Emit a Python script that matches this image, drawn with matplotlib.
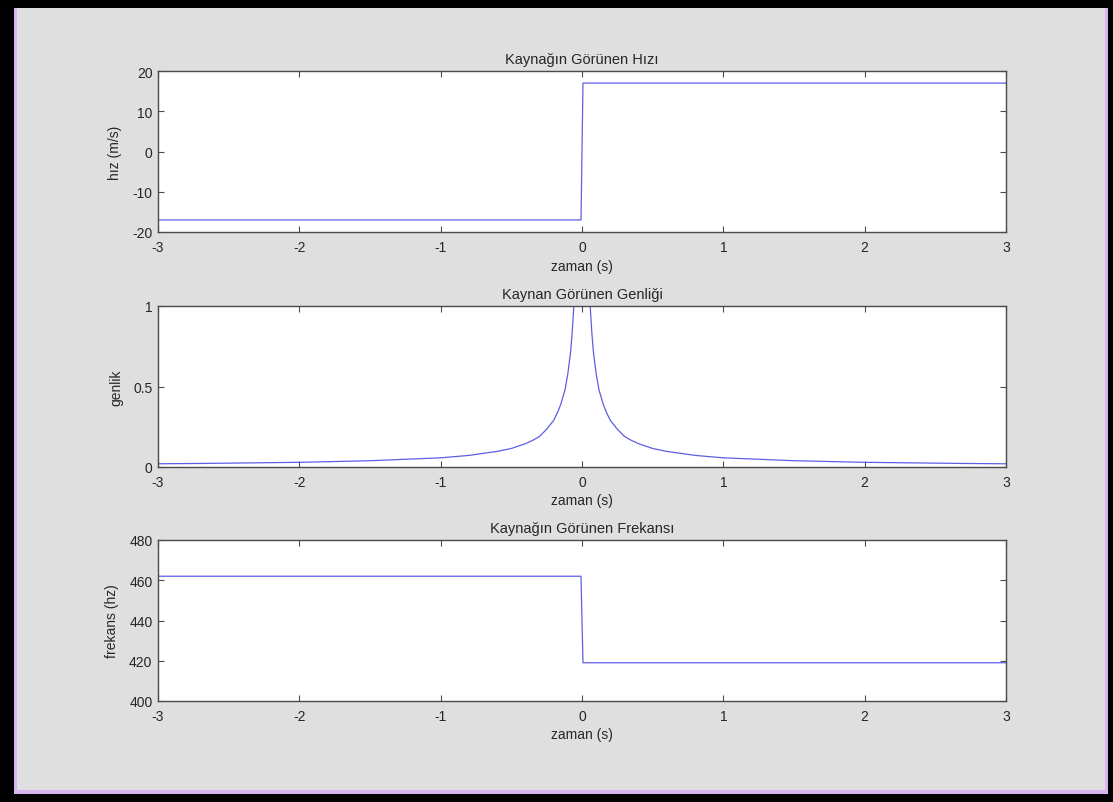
import numpy as np
import matplotlib.pyplot as plt
from matplotlib.patches import Rectangle

plt.rcParams['font.family'] = ['Liberation Sans', 'DejaVu Sans']
plt.rcParams['axes.unicode_minus'] = False

# source moving past the observer, sampled around t = 0
t_step = [-3.0, -0.007, 0.0, 0.007, 3.0]
hiz = [-17, -17, 0, 17, 17]
frekans = [462, 462, 440, 419, 419]

t_genlik = [-3.0, -2.7, -2.5, -2.0, -1.5, -1.0, -0.8, -0.6, -0.5, -0.4, -0.35, -0.3,
            -0.25, -0.2, -0.17, -0.15, -0.13, -0.12, -0.1, -0.09, -0.08, -0.07, -0.06, -0.05,
            0.05, 0.06, 0.07, 0.08, 0.09, 0.1, 0.12, 0.13, 0.15, 0.17, 0.2, 0.25,
            0.3, 0.35, 0.4, 0.5, 0.6, 0.8, 1.0, 1.5, 2.0, 2.5, 2.7, 3.0]
genlik = [0.020, 0.022, 0.024, 0.029, 0.039, 0.057, 0.072, 0.097, 0.115, 0.145, 0.165, 0.19,
          0.235, 0.29, 0.345, 0.39, 0.45, 0.48, 0.58, 0.65, 0.72, 0.83, 0.97, 1.15,
          1.15, 0.97, 0.83, 0.72, 0.65, 0.58, 0.48, 0.45, 0.39, 0.345, 0.29, 0.235,
          0.19, 0.165, 0.145, 0.115, 0.097, 0.072, 0.057, 0.039, 0.029, 0.024, 0.022, 0.020]

W, H = 1113, 803
fig = plt.figure(figsize=(W / 100, H / 100), dpi=100, facecolor='black')
# grey figure area with a thin lilac edge on the left, right and bottom
fig.patches.append(Rectangle((14 / W, 8 / H), 1094 / W, 786 / H,
                             transform=fig.transFigure, facecolor='#d8b6ef',
                             edgecolor='none', zorder=-2))
fig.patches.append(Rectangle((17 / W, 12 / H), 1088 / W, 782 / H,
                             transform=fig.transFigure, facecolor='#dfdfdf',
                             edgecolor='none', zorder=-1))

line_c = '#5e5ee4'
edge_c = '#4a4a4a'
text_c = '#262626'


def panel(bottom, x, y, title, ylabel, ylim, yticks, yticklabels):
    ax = fig.add_axes([158 / W, bottom / H, 848 / W, 161 / H])
    ax.set_facecolor('white')
    ax.plot(x, y, color=line_c, linewidth=0.9)
    ax.set_xlim(-3, 3)
    ax.set_ylim(*ylim)
    ax.set_xticks(range(-3, 4))
    ax.set_yticks(yticks)
    ax.set_yticklabels(yticklabels)
    ax.tick_params(direction='in', length=4, width=0.8, color=edge_c,
                   top=True, right=True, labelsize=10, labelcolor=text_c)
    ax.tick_params(axis='x', pad=6)
    ax.tick_params(axis='y', pad=4)
    for s in ax.spines.values():
        s.set_color(edge_c)
        s.set_linewidth(1.0)
    ax.set_title(title, fontsize=10.5, color=text_c, pad=6)
    ax.set_xlabel('zaman (s)', fontsize=10, color=text_c, labelpad=3)
    ax.set_ylabel(ylabel, fontsize=10, color=text_c, labelpad=7)
    return ax


panel(H - 233, t_step, hiz, 'Kaynağın Görünen Hızı', 'hız (m/s)',
      (-20, 20), [-20, -10, 0, 10, 20], ['-20', '-10', '0', '10', '20'])
panel(H - 468, t_genlik, genlik, 'Kaynan Görünen Genliği', 'genlik',
      (0, 1), [0, 0.5, 1], ['0', '0.5', '1'])
panel(H - 702, t_step, frekans, 'Kaynağın Görünen Frekansı', 'frekans (hz)',
      (400, 480), [400, 420, 440, 460, 480], ['400', '420', '440', '460', '480'])

fig.savefig('out.png', dpi=100, facecolor='black')
